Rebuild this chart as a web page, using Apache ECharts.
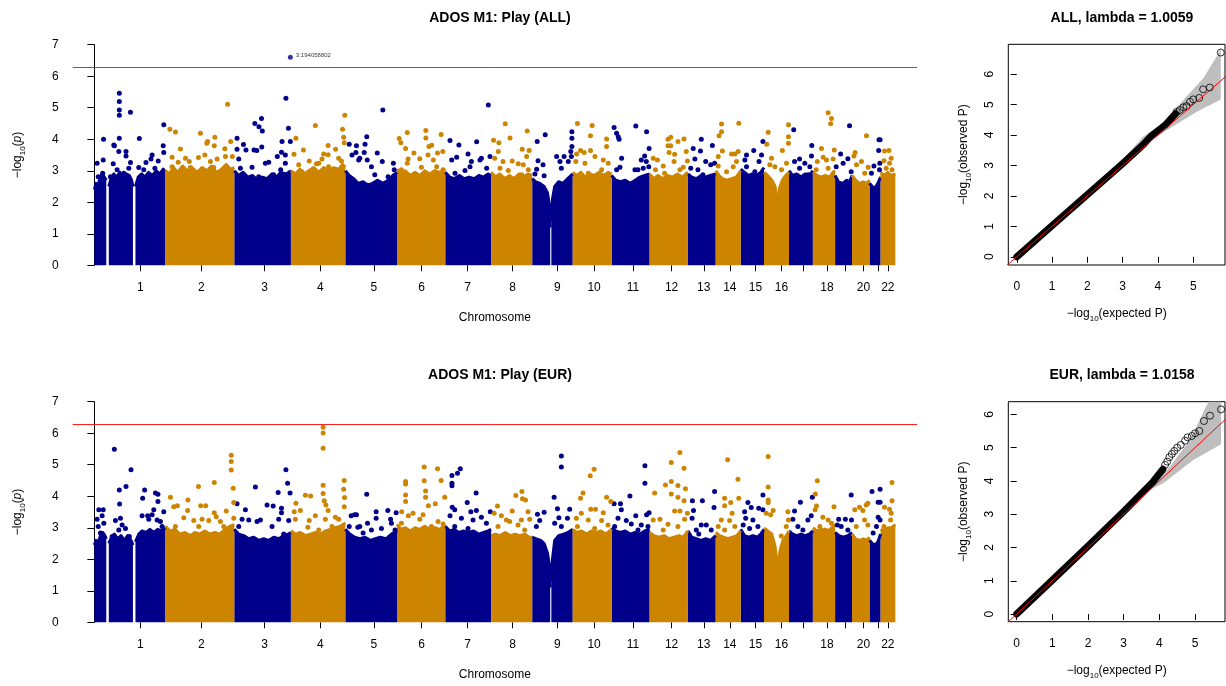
<!DOCTYPE html>
<html>
<head>
<meta charset="utf-8">
<title>ADOS M1: Play</title>
<script src="https://cdn.jsdelivr.net/npm/echarts@6/dist/echarts.min.js"></script>
<style>
    html, body {margin: 0; padding: 0; background: #fff;}
    #chart {width: 1226px; height: 686px;}
</style>
</head>
<body>
<div id="chart"></div>
<script>
// cumulative genome position (Mb) where each chromosome starts
var chrStart = [0, 256, 504, 708, 904, 1090, 1264, 1429, 1577, 1723, 1863, 2000, 2138, 2238, 2328, 2412, 2502, 2588, 2668, 2729, 2792, 2832];
var chrTicks = [166, 385, 613, 814, 1007, 1179, 1344, 1506, 1668, 1800, 1940, 2079, 2195, 2289, 2381, 2475, 2555, 2639, 2706, 2770, 2825, 2858];
var chrNames = ['1', '2', '3', '4', '5', '6', '7', '8', '9', '10', '11', '12', '13', '14', '15', '16', '17', '18', '19', '20', '21', '22'];
var chrHidden = ['17', '19', '21'];
var sigLine = 6.3;

// top of the solid mass of points, per block: [pos, -log10 p], null between blocks
var allBody = [
    [0, 2.4], [6, 2.6], [12, 2.5], [20, 2.75], [28, 2.9], [36, 2.8], [43, 2.7], null,
    [52, 2.5], [60, 2.75], [70, 2.9], [80, 2.8], [92, 2.95], [104, 2.75], [115, 2.9], [126, 2.85], [134, 2.7], [139, 2.5], null,
    [148, 2.5], [158, 2.8], [170, 2.9], [182, 2.8], [195, 2.95], [210, 2.85], [222, 3.0], [236, 2.9], [248, 3.05], [256, 2.95], null,
    [256, 3.0], [270, 2.9], [285, 3.1], [300, 2.95], [318, 3.15], [335, 3.0], [352, 3.1], [370, 2.95], [388, 3.1], [405, 3.0], [422, 3.15], [440, 2.95], [458, 3.05], [475, 3.2], [490, 3.05], [504, 3.1], null,
    [504, 3.0], [520, 2.85], [536, 2.95], [552, 2.8], [570, 2.85], [588, 2.7], [605, 2.8], [622, 2.75], [640, 2.9], [656, 2.8], [672, 2.95], [690, 2.9], [708, 3.0], null,
    [708, 3.0], [724, 2.9], [740, 3.05], [756, 2.9], [772, 3.0], [790, 3.1], [808, 2.95], [826, 3.1], [845, 3.0], [862, 3.1], [880, 3.05], [894, 3.2], [904, 3.1], null,
    [904, 3.0], [918, 2.85], [934, 2.75], [950, 2.6], [968, 2.65], [985, 2.55], [1002, 2.6], [1020, 2.7], [1040, 2.6], [1058, 2.7], [1075, 2.85], [1090, 2.95], null,
    [1090, 3.05], [1105, 2.9], [1120, 3.0], [1138, 2.85], [1155, 2.95], [1172, 2.85], [1190, 3.0], [1208, 2.9], [1225, 3.0], [1245, 2.95], [1264, 3.05], null,
    [1264, 2.95], [1280, 2.8], [1297, 2.75], [1315, 2.85], [1332, 2.75], [1350, 2.8], [1368, 2.75], [1385, 2.85], [1402, 2.8], [1418, 2.9], [1429, 2.85], null,
    [1429, 2.95], [1445, 2.8], [1460, 2.9], [1478, 2.75], [1495, 2.85], [1512, 2.75], [1530, 2.9], [1546, 2.8], [1562, 2.9], [1577, 2.85], null,
    [1577, 2.75], [1590, 2.65], [1605, 2.6], [1620, 2.5], [1632, 2.3], [1639, 1.9], [1642, 1.2], null,
    [1646, 1.4], [1650, 2.1], [1658, 2.5], [1672, 2.65], [1688, 2.6], [1705, 2.75], [1723, 2.9], null,
    [1723, 2.95], [1738, 2.85], [1752, 2.95], [1768, 2.8], [1785, 2.9], [1800, 2.85], [1818, 2.95], [1835, 2.85], [1850, 2.95], [1863, 2.9], null,
    [1863, 2.85], [1878, 2.7], [1895, 2.65], [1912, 2.7], [1930, 2.6], [1948, 2.7], [1965, 2.8], [1982, 2.85], [2000, 2.9], null,
    [2000, 2.9], [2015, 2.75], [2030, 2.85], [2048, 2.75], [2065, 2.85], [2082, 2.8], [2100, 2.9], [2118, 2.8], [2130, 2.9], [2138, 2.95], null,
    [2138, 2.9], [2152, 2.8], [2168, 2.75], [2185, 2.85], [2200, 2.8], [2218, 2.85], [2238, 2.9], null,
    [2238, 3.0], [2250, 2.85], [2262, 2.75], [2278, 2.7], [2295, 2.75], [2312, 2.8], [2328, 3.0], null,
    [2328, 3.05], [2342, 2.95], [2356, 2.85], [2370, 2.9], [2385, 2.85], [2400, 2.95], [2412, 3.1], null,
    [2412, 2.95], [2425, 2.85], [2440, 2.7], [2452, 2.5], [2460, 1.6], [2466, 2.4], [2478, 2.7], [2490, 2.85], [2502, 2.95], null,
    [2502, 3.0], [2515, 2.85], [2530, 2.9], [2545, 2.8], [2560, 2.9], [2575, 2.85], [2588, 3.0], null,
    [2588, 2.95], [2603, 2.85], [2618, 2.8], [2633, 2.85], [2648, 2.8], [2660, 2.95], [2668, 3.0], null,
    [2668, 2.85], [2680, 2.65], [2695, 2.6], [2710, 2.7], [2720, 2.65], [2729, 2.85], null,
    [2729, 2.85], [2742, 2.7], [2755, 2.6], [2770, 2.65], [2782, 2.6], [2792, 2.7], null,
    [2792, 2.6], [2802, 2.5], [2812, 2.45], [2822, 2.6], [2832, 2.8], null,
    [2832, 2.95], [2845, 2.85], [2858, 2.95], [2870, 2.85], [2885, 2.9]
];

// single points standing out above the mass
var allPoints = [
    [10, 3.24], [32, 3.34], [33, 4.00], [30, 2.92], [14, 2.81], [28, 2.71],
    [90, 5.46], [90, 5.20], [90, 4.93], [90, 4.76], [130, 4.86], [90, 4.03], [70, 3.82], [72, 3.79], [114, 3.61], [130, 3.26], [114, 3.47], [88, 3.61], [124, 3.08], [82, 3.03], [68, 3.22], [106, 2.92], [58, 2.81],
    [162, 4.02], [250, 4.46], [248, 3.79], [250, 3.58], [208, 3.50], [204, 3.37], [186, 3.26], [178, 3.03], [160, 3.10], [218, 3.08], [230, 3.31], [242, 2.89], [196, 2.81],
    [272, 4.32], [292, 4.23], [382, 4.19], [480, 5.11], [408, 3.93], [405, 3.87], [434, 4.06], [432, 3.79], [491, 3.93], [470, 3.70], [497, 3.45], [310, 3.69], [328, 3.40], [342, 3.29], [280, 3.43], [302, 3.27], [375, 3.42], [398, 3.50], [418, 3.29], [442, 3.37], [472, 3.45], [346, 3.10], [430, 3.10], [388, 3.05], [280, 3.13], [364, 2.87], [460, 2.92],
    [690, 5.30], [602, 4.66], [578, 4.50], [593, 4.40], [605, 4.26], [699, 4.35], [676, 3.93], [706, 3.93], [514, 4.03], [514, 3.68], [537, 3.83], [546, 3.66], [575, 3.66], [585, 3.64], [603, 3.75], [616, 3.24], [628, 3.27], [659, 3.45], [674, 3.59], [688, 3.50], [688, 3.24], [520, 3.37], [526, 3.08], [568, 3.11], [646, 2.87], [671, 3.03], [592, 2.81],
    [902, 4.76], [894, 4.32], [898, 4.06], [900, 3.89], [796, 4.44], [726, 4.03], [753, 3.66], [842, 3.80], [869, 3.68], [719, 3.52], [774, 3.31], [808, 3.24], [826, 3.53], [842, 3.51], [800, 3.22], [820, 3.37], [880, 3.40], [890, 3.31], [844, 3.13], [736, 3.19], [748, 2.97], [790, 3.03], [772, 2.81],
    [918, 3.84], [944, 3.79], [942, 3.58], [952, 3.34], [928, 3.50], [1039, 4.93], [981, 4.08], [975, 3.84], [1019, 3.56], [983, 3.34], [956, 3.40], [972, 3.58], [1010, 2.87], [1037, 3.29], [1077, 3.24], [1080, 3.03], [1058, 2.81], [998, 3.13],
    [1127, 4.21], [1194, 4.28], [1194, 4.04], [1249, 4.15], [1098, 4.02], [1104, 3.89], [1121, 3.71], [1215, 3.81], [1205, 3.77], [1151, 3.56], [1172, 3.38], [1202, 3.50], [1236, 3.56], [1255, 3.61], [1130, 3.37], [1127, 3.24], [1221, 3.34], [1233, 3.13], [1178, 3.11], [1106, 3.03], [1256, 3.03],
    [1281, 3.96], [1313, 3.82], [1377, 3.92], [1419, 5.09], [1346, 3.53], [1389, 3.34], [1305, 3.43], [1287, 3.34], [1358, 3.29], [1394, 3.40], [1425, 3.45], [1353, 3.13], [1335, 3.01], [1299, 2.92], [1413, 3.08],
    [1480, 4.49], [1438, 3.97], [1457, 3.89], [1497, 4.04], [1559, 4.26], [1455, 3.61], [1541, 3.68], [1566, 3.64], [1442, 3.40], [1472, 3.29], [1505, 3.31], [1527, 3.22], [1557, 3.45], [1545, 3.19], [1461, 3.08], [1491, 3.01], [1563, 3.03], [1539, 2.87],
    [1624, 4.14], [1595, 3.93], [1598, 3.32], [1616, 3.19], [1593, 3.05], [1587, 2.90], [1620, 2.84], [1665, 3.45], [1692, 3.45], [1707, 3.29], [1677, 3.29], [1716, 3.61], [1720, 4.24], [1720, 4.03], [1720, 3.77], [1718, 3.45], [1682, 3.08],
    [1740, 4.50], [1793, 4.44], [1787, 4.11], [1845, 4.01], [1845, 3.77], [1737, 3.53], [1751, 3.64], [1764, 3.58], [1734, 3.29], [1787, 3.64], [1803, 3.45], [1833, 3.34], [1851, 3.24], [1827, 3.03], [1767, 3.24], [1779, 2.92],
    [1872, 4.37], [1881, 4.19], [1887, 4.08], [1890, 4.00], [1950, 4.42], [1899, 3.40], [1893, 3.11], [1881, 3.03], [1947, 3.03], [1977, 3.08], [1989, 4.24], [1998, 3.71], [1982, 3.47], [1988, 3.29], [1958, 3.03], [1970, 3.34], [1997, 3.13],
    [2066, 4.00], [2076, 4.06], [2102, 3.93], [2124, 4.01], [2066, 3.79], [2076, 3.79], [2090, 3.52], [2132, 3.61], [2136, 3.31], [2028, 3.34], [2049, 3.15], [2021, 3.03], [2070, 3.58], [2109, 3.03], [2088, 3.29], [2121, 3.11], [2013, 3.40], [2054, 2.92],
    [2186, 4.00], [2183, 3.63], [2157, 3.71], [2226, 3.80], [2163, 3.37], [2202, 3.29], [2220, 3.19], [2148, 3.08], [2234, 3.24], [2174, 3.03], [2192, 2.87],
    [2259, 4.48], [2259, 4.24], [2250, 4.11], [2262, 3.63], [2321, 4.51], [2295, 3.53], [2307, 3.53], [2319, 3.61], [2247, 3.45], [2301, 3.13], [2247, 3.15], [2313, 3.29], [2277, 2.97],
    [2408, 3.93], [2375, 3.64], [2349, 3.50], [2343, 3.34], [2403, 3.50], [2394, 3.29], [2349, 3.13], [2379, 2.97], [2366, 2.81],
    [2500, 4.46], [2500, 4.08], [2500, 3.87], [2427, 4.22], [2422, 3.84], [2478, 3.64], [2439, 3.40], [2451, 3.13], [2475, 3.03], [2493, 3.24], [2433, 3.19],
    [2519, 4.30], [2584, 3.80], [2540, 3.37], [2522, 3.29], [2559, 3.24], [2583, 3.47], [2577, 3.13], [2540, 3.08], [2571, 2.87],
    [2643, 4.84], [2655, 4.66], [2652, 4.49], [2619, 3.71], [2665, 3.66], [2637, 3.34], [2604, 3.29], [2661, 3.37], [2600, 3.03], [2625, 3.43], [2643, 3.08],
    [2720, 4.43], [2688, 3.53], [2714, 3.38], [2672, 3.13], [2726, 2.97], [2697, 3.24],
    [2781, 4.11], [2740, 3.58], [2763, 3.29], [2787, 3.11], [2736, 3.47], [2745, 3.19], [2775, 2.92],
    [2826, 3.98], [2830, 3.98], [2825, 3.64], [2829, 3.24], [2808, 3.15], [2828, 3.03], [2799, 2.92],
    [2846, 3.63], [2862, 3.64], [2870, 3.40], [2844, 3.32], [2864, 3.24], [2873, 3.03], [2852, 3.08], [2840, 2.81]
];
var allHit = [706, 6.60];
var allHitName = '3:194058802';

var eurBody = [
    [0, 2.45], [6, 2.6], [14, 2.55], [22, 2.75], [30, 2.85], [38, 2.75], [43, 2.65], null,
    [52, 2.5], [62, 2.7], [72, 2.8], [84, 2.65], [96, 2.75], [108, 2.6], [120, 2.75], [132, 2.6], [139, 2.45], null,
    [148, 2.55], [160, 2.8], [172, 2.9], [186, 2.85], [200, 2.95], [214, 2.85], [228, 2.95], [242, 2.9], [256, 3.0], null,
    [256, 3.05], [272, 2.9], [290, 2.95], [308, 2.8], [326, 2.85], [345, 2.75], [362, 2.85], [380, 2.8], [398, 2.9], [416, 2.8], [435, 2.85], [452, 2.8], [470, 2.95], [488, 3.05], [504, 3.1], null,
    [504, 2.95], [520, 2.8], [538, 2.75], [556, 2.65], [574, 2.7], [592, 2.6], [610, 2.65], [628, 2.6], [646, 2.7], [664, 2.65], [682, 2.75], [698, 2.8], [708, 2.85], null,
    [708, 2.9], [724, 2.8], [742, 2.85], [760, 2.75], [778, 2.8], [796, 2.85], [814, 2.8], [832, 2.9], [850, 2.95], [868, 3.0], [886, 3.05], [904, 3.15], null,
    [904, 2.95], [920, 2.8], [938, 2.7], [956, 2.65], [975, 2.7], [994, 2.6], [1012, 2.65], [1030, 2.7], [1050, 2.65], [1070, 2.8], [1090, 2.9], null,
    [1090, 3.1], [1105, 2.95], [1120, 3.0], [1138, 2.9], [1155, 3.0], [1172, 2.95], [1190, 3.05], [1208, 2.95], [1226, 3.0], [1245, 2.95], [1264, 3.1], null,
    [1264, 3.05], [1280, 2.9], [1296, 2.95], [1312, 2.85], [1330, 2.9], [1348, 2.85], [1366, 2.9], [1384, 2.8], [1402, 2.85], [1418, 2.9], [1429, 2.95], null,
    [1429, 2.75], [1445, 2.8], [1462, 2.75], [1480, 2.85], [1498, 2.75], [1515, 2.8], [1532, 2.75], [1550, 2.8], [1566, 2.7], [1577, 2.7], null,
    [1577, 2.7], [1592, 2.65], [1608, 2.6], [1620, 2.5], [1632, 2.2], [1639, 1.8], [1642, 1.1], null,
    [1646, 1.3], [1650, 2.0], [1658, 2.6], [1672, 2.75], [1690, 2.8], [1706, 2.85], [1723, 2.95], null,
    [1723, 2.95], [1738, 2.85], [1755, 2.9], [1772, 2.8], [1790, 2.9], [1808, 2.85], [1825, 2.9], [1842, 2.8], [1863, 2.95], null,
    [1863, 3.0], [1878, 2.9], [1895, 2.85], [1912, 2.9], [1930, 2.8], [1948, 2.85], [1965, 2.8], [1982, 2.9], [2000, 2.95], null,
    [2000, 2.85], [2016, 2.75], [2034, 2.7], [2052, 2.75], [2070, 2.65], [2088, 2.7], [2105, 2.75], [2122, 2.7], [2138, 2.9], null,
    [2138, 2.9], [2152, 2.7], [2168, 2.65], [2185, 2.6], [2202, 2.65], [2220, 2.6], [2238, 2.75], null,
    [2238, 2.85], [2252, 2.75], [2266, 2.7], [2282, 2.65], [2298, 2.7], [2314, 2.75], [2328, 2.9], null,
    [2328, 2.95], [2342, 2.75], [2357, 2.7], [2372, 2.75], [2388, 2.7], [2400, 2.8], [2412, 2.95], null,
    [2412, 3.0], [2425, 2.9], [2440, 2.8], [2452, 2.4], [2462, 1.7], [2470, 2.3], [2480, 2.6], [2492, 2.75], [2502, 2.9], null,
    [2502, 2.9], [2516, 2.8], [2530, 2.75], [2545, 2.8], [2560, 2.75], [2575, 2.8], [2588, 2.9], null,
    [2588, 3.0], [2602, 2.9], [2618, 2.95], [2634, 2.9], [2650, 2.95], [2668, 3.1], null,
    [2668, 2.85], [2682, 2.75], [2698, 2.7], [2714, 2.75], [2729, 2.85], null,
    [2729, 2.8], [2742, 2.65], [2756, 2.6], [2770, 2.65], [2782, 2.6], [2792, 2.7], null,
    [2792, 2.6], [2802, 2.5], [2812, 2.45], [2822, 2.55], [2832, 2.8], null,
    [2832, 2.95], [2845, 2.9], [2858, 3.0], [2870, 3.0], [2885, 3.1]
];

var eurPoints = [
    [16, 3.57], [32, 3.57], [10, 3.27], [14, 3.04], [28, 3.38], [34, 3.14], [22, 2.83],
    [72, 5.49], [132, 4.84], [114, 4.31], [90, 4.20], [91, 3.75], [94, 3.30], [76, 3.23], [100, 3.09], [112, 2.98], [64, 2.72], [126, 2.72], [88, 2.93],
    [181, 4.20], [174, 3.94], [220, 4.10], [229, 4.06], [229, 3.83], [214, 3.57], [208, 3.41], [196, 3.27], [172, 3.38], [192, 3.38], [250, 3.51], [244, 3.04], [166, 2.77], [226, 3.25], [238, 3.20],
    [274, 3.97], [432, 4.44], [375, 4.31], [337, 3.88], [383, 3.70], [401, 3.70], [299, 3.70], [286, 3.67], [336, 3.55], [432, 3.48], [439, 3.35], [475, 3.53], [493, 5.30], [493, 5.10], [493, 4.83], [500, 4.25], [502, 3.80], [502, 3.30], [322, 3.32], [358, 3.23], [388, 3.27], [412, 3.23], [454, 3.20], [292, 3.04], [466, 3.04], [376, 3.04],
    [580, 4.29], [690, 4.84], [696, 4.41], [705, 4.10], [662, 4.12], [514, 3.76], [544, 3.57], [622, 3.72], [644, 3.69], [674, 3.62], [674, 3.48], [556, 3.25], [586, 3.20], [532, 3.27], [598, 3.25], [640, 3.04], [664, 3.27], [682, 2.80], [700, 3.23], [520, 3.04], [688, 2.61],
    [824, 6.19], [824, 6.01], [824, 5.52], [824, 4.35], [824, 4.09], [828, 3.86], [834, 3.72], [900, 4.50], [898, 4.22], [901, 3.96], [900, 3.67], [760, 4.03], [779, 4.01], [726, 3.78], [720, 3.51], [742, 3.55], [796, 3.38], [842, 3.55], [724, 3.27], [774, 3.23], [868, 3.33], [880, 3.27], [832, 3.27], [769, 3.02], [808, 2.93], [856, 3.04],
    [925, 3.38], [937, 3.41], [949, 3.02], [918, 3.04], [981, 4.06], [944, 3.41], [1015, 3.51], [1015, 3.30], [1057, 3.55], [1087, 3.48], [1067, 3.27], [1070, 3.14], [984, 3.14], [956, 3.04], [968, 2.83], [1034, 2.98], [998, 2.93], [1083, 2.93],
    [1121, 4.47], [1121, 4.39], [1121, 4.04], [1121, 3.83], [1188, 4.93], [1188, 4.49], [1193, 4.17], [1193, 3.97], [1203, 3.70], [1236, 4.87], [1249, 4.50], [1228, 3.76], [1262, 3.97], [1107, 3.51], [1131, 3.38], [1172, 3.27], [1184, 3.41], [1238, 3.20], [1256, 3.12], [1148, 3.46], [1214, 3.04], [1106, 3.14],
    [1288, 4.66], [1288, 4.41], [1288, 4.33], [1308, 4.73], [1318, 4.87], [1343, 3.80], [1375, 4.10], [1289, 3.65], [1298, 3.57], [1356, 3.51], [1376, 3.55], [1426, 3.51], [1281, 3.38], [1322, 3.30], [1364, 3.25], [1394, 3.33], [1412, 3.14], [1298, 3.04], [1346, 2.98],
    [1518, 4.02], [1540, 4.15], [1542, 3.92], [1553, 3.88], [1505, 3.53], [1452, 3.69], [1440, 3.46], [1466, 3.38], [1496, 3.20], [1562, 3.51], [1568, 3.27], [1538, 3.25], [1484, 3.25], [1454, 3.04], [1526, 3.09], [1550, 2.93],
    [1682, 5.28], [1682, 4.93], [1656, 3.97], [1596, 3.43], [1620, 3.49], [1604, 3.23], [1592, 3.04], [1668, 3.60], [1673, 3.32], [1704, 3.30], [1712, 3.59], [1682, 3.04], [1658, 3.14],
    [1800, 4.86], [1786, 4.65], [1760, 4.10], [1751, 3.94], [1845, 3.97], [1860, 3.83], [1736, 3.30], [1754, 3.46], [1788, 3.59], [1805, 3.59], [1833, 3.48], [1827, 3.23], [1779, 3.25], [1740, 3.04], [1850, 3.09], [1802, 2.98],
    [1929, 4.01], [1872, 3.76], [1895, 3.76], [1898, 3.57], [1950, 3.38], [1886, 3.30], [1916, 3.23], [1934, 3.12], [1970, 3.09], [1983, 4.97], [1983, 4.41], [1998, 3.48], [1989, 3.41], [1994, 3.04], [1874, 3.04], [1958, 2.93],
    [2109, 5.39], [2078, 5.07], [2124, 4.89], [2057, 4.36], [2078, 4.47], [2102, 4.34], [2078, 4.07], [2102, 3.97], [2129, 4.24], [2018, 4.10], [2124, 3.86], [2090, 3.53], [2109, 3.53], [2136, 3.46], [2037, 3.27], [2066, 3.11], [2013, 3.25], [2126, 3.27], [2102, 3.04], [2049, 2.93],
    [2154, 3.86], [2190, 3.86], [2234, 4.15], [2232, 3.64], [2158, 3.55], [2153, 3.30], [2186, 3.09], [2204, 3.09], [2168, 2.93], [2222, 2.93], [2177, 2.80],
    [2281, 5.16], [2318, 4.54], [2270, 3.94], [2270, 3.70], [2292, 3.80], [2297, 3.46], [2321, 3.94], [2258, 3.25], [2288, 3.23], [2247, 3.04], [2307, 3.04], [2270, 2.93],
    [2408, 4.04], [2354, 3.80], [2366, 3.64], [2393, 3.62], [2342, 3.51], [2346, 3.30], [2372, 3.25], [2390, 3.04], [2360, 2.98], [2408, 3.57], [2337, 3.09],
    [2427, 5.26], [2427, 4.29], [2427, 3.88], [2427, 3.80], [2445, 3.55], [2436, 3.41], [2420, 3.46], [2498, 3.51], [2500, 3.25], [2474, 2.74], [2492, 3.04],
    [2543, 3.81], [2586, 3.97], [2522, 3.53], [2516, 3.27], [2570, 3.25], [2552, 2.93], [2582, 3.38], [2534, 3.04],
    [2604, 4.49], [2597, 4.07], [2601, 3.69], [2596, 3.57], [2624, 3.33], [2643, 3.25], [2664, 3.67], [2613, 3.04], [2655, 3.14], [2631, 2.93],
    [2726, 4.04], [2681, 3.27], [2705, 3.27], [2727, 3.25], [2690, 3.04], [2714, 2.93], [2676, 3.09],
    [2739, 3.57], [2768, 3.55], [2780, 3.72], [2786, 3.78], [2756, 3.65], [2774, 3.25], [2786, 3.09], [2744, 3.04],
    [2801, 4.15], [2830, 4.22], [2823, 3.81], [2830, 3.81], [2823, 3.33], [2830, 3.25], [2805, 2.83], [2817, 3.04],
    [2873, 4.44], [2873, 3.86], [2864, 3.59], [2870, 3.46], [2846, 3.65], [2868, 3.25], [2844, 3.04], [2858, 2.93]
];

// QQ plots: [expected, observed]
var allQqBulk = [[0, 0], [1, 1.02], [2, 2.04], [3, 3.06], [3.6, 3.7], [3.8, 3.96], [4.2, 4.32], [4.5, 4.7]];
var allQqTail = [[4.53, 4.76], [4.62, 4.82], [4.72, 4.91], [4.81, 4.95], [4.91, 5.09], [5.0, 5.17], [5.17, 5.22], [5.28, 5.5], [5.47, 5.56], [5.78, 6.71]];
var allQqBand = [[2.5, 2.55], [3.58, 3.94], [4.15, 4.38], [4.72, 5.15], [5.28, 5.86], [5.66, 6.57], [5.78, 6.84], [5.78, 5.17], [5.09, 4.76], [4.34, 4.22], [3.58, 3.67], [2.5, 2.45]];
var allLambda = '1.0059';

var eurQqBulk = [[0, 0], [1, 1.02], [2, 2.04], [3, 3.08], [3.5, 3.62], [3.8, 3.95], [4.0, 4.22], [4.1, 4.35]];
var eurQqTail = [[4.16, 4.48], [4.22, 4.58], [4.28, 4.71], [4.35, 4.81], [4.42, 4.9], [4.5, 5.0], [4.6, 5.08], [4.72, 5.21], [4.79, 5.31], [4.91, 5.35], [5.0, 5.43], [5.12, 5.5], [5.25, 5.8], [5.42, 5.96], [5.73, 6.15]];
var eurQqBand = [[2.5, 2.55], [3.55, 3.73], [4.2, 4.3], [4.86, 5.23], [5.33, 6.28], [5.4, 6.38], [5.73, 6.38], [5.73, 5.1], [4.95, 4.63], [4.11, 3.93], [3.55, 3.63], [2.5, 2.45]];
var eurLambda = '1.0158';

var qqRef = [[-1, -1], [8, 8]];

var NAVY = '#00008B', GOLD = '#CD8500';
var FONT = 'Liberation Sans, Arial, sans-serif';

function chrIndex(pos) {
    var i = chrStart.length - 1;
    while (i > 0 && pos < chrStart[i]) i--;
    return i;
}

// join the blocks of one colour into a line series, '-' breaks the area between blocks
function bodyData(body, parity) {
    var segs = [], seg = [], out = [];
    body.forEach(function (p) {
        if (p === null) {
            if (seg.length) segs.push(seg);
            seg = [];
        } else seg.push(p);
    });
    if (seg.length) segs.push(seg);
    segs.forEach(function (s) {
        if (chrIndex(s[0][0] + 0.5) % 2 !== parity) return;
        if (out.length) out.push([s[0][0], '-']);
        out = out.concat(s);
    });
    return out;
}

function pointData(points, parity) {
    return points.filter(function (p) { return chrIndex(p[0]) % 2 === parity; });
}

var logName = function (tail) {
    return '{a|\u2212log}{s|10}{a|' + tail + '}';
};
var nameRich = {
    a: {fontSize: 12, fontFamily: FONT, color: '#000', lineHeight: 18},
    s: {fontSize: 8, fontFamily: FONT, color: '#000', verticalAlign: 'bottom', lineHeight: 18},
    i: {fontSize: 12, fontFamily: FONT, color: '#000', fontStyle: 'italic', lineHeight: 18}
};

function manhattanAxes(gi) {
    var x = {
        type: 'value', gridIndex: gi, min: -78, max: 2963,
        name: 'Chromosome', nameLocation: 'middle', nameGap: 46,
        nameTextStyle: {fontSize: 12, fontFamily: FONT, color: '#000'},
        axisLine: {show: false},
        axisTick: {show: true, length: 6, customValues: chrTicks, lineStyle: {color: '#000'}},
        axisLabel: {
            fontSize: 12, fontFamily: FONT, color: '#000', margin: 16,
            customValues: chrTicks.filter(function (t, i) { return chrHidden.indexOf(chrNames[i]) < 0; }),
            formatter: function (v) { return chrNames[chrTicks.indexOf(v)]; }
        },
        splitLine: {show: false}
    };
    var y = {
        type: 'value', gridIndex: gi, min: 0, max: 7, interval: 1,
        name: '{a|\u2212log}{s|10}{a|(}{i|p}{a|)}', nameLocation: 'middle', nameGap: 46,
        nameTextStyle: {rich: nameRich},
        axisLine: {show: true, lineStyle: {color: '#000'}},
        axisTick: {show: true, length: 7, lineStyle: {color: '#000'}},
        axisLabel: {fontSize: 12, fontFamily: FONT, color: '#000', margin: 14},
        splitLine: {show: false}
    };
    return [x, y];
}

function qqAxes(gi, xmin, xmax, ymin, ymax) {
    var x = {
        type: 'value', gridIndex: gi, min: xmin, max: xmax,
        name: logName('(expected P)'), nameLocation: 'middle', nameGap: 40,
        nameTextStyle: {rich: nameRich},
        axisLine: {show: false},
        axisTick: {show: true, length: 6, customValues: [0, 1, 2, 3, 4, 5], lineStyle: {color: '#000'}},
        axisLabel: {fontSize: 12, fontFamily: FONT, color: '#000', margin: 16, customValues: [0, 1, 2, 3, 4, 5]},
        splitLine: {show: false}
    };
    var y = {
        type: 'value', gridIndex: gi, min: ymin, max: ymax,
        name: logName('(observed P)'), nameLocation: 'middle', nameGap: 36,
        nameTextStyle: {rich: nameRich},
        axisLine: {show: false},
        axisTick: {show: true, length: 6, customValues: [0, 1, 2, 3, 4, 5, 6], lineStyle: {color: '#000'}},
        axisLabel: {fontSize: 12, fontFamily: FONT, color: '#000', margin: 13, rotate: 90, customValues: [0, 1, 2, 3, 4, 5, 6]},
        splitLine: {show: false}
    };
    return [x, y];
}

function manhattanSeries(ai, body, points) {
    var list = [];
    [0, 1].forEach(function (parity) {
        var col = parity === 0 ? NAVY : GOLD;
        list.push({
            type: 'line', xAxisIndex: ai, yAxisIndex: ai, data: bodyData(body, parity),
            symbol: 'none', connectNulls: false, z: 2, silent: true,
            lineStyle: {color: col, width: 3, join: 'round'}, areaStyle: {color: col, opacity: 1}
        });
        list.push({
            type: 'scatter', xAxisIndex: ai, yAxisIndex: ai, data: pointData(points, parity),
            symbolSize: 5, z: 3, silent: true,
            itemStyle: {color: col, opacity: 1}
        });
    });
    list[0].markLine = {
        silent: true, symbol: 'none', label: {show: false},
        lineStyle: {color: '#FF2020', width: 1, type: 'solid', opacity: 1},
        data: [{yAxis: sigLine}]
    };
    return list;
}

function qqSeries(ai, bulk, tail, band) {
    return [
        {
            type: 'custom', xAxisIndex: ai, yAxisIndex: ai, data: [band[0]], z: 1, silent: true,
            renderItem: function (params, api) {
                return {
                    type: 'polygon',
                    shape: {points: band.map(function (p) { return api.coord(p); })},
                    style: {fill: '#BEBEBE'}
                };
            }
        },
        {
            type: 'line', xAxisIndex: ai, yAxisIndex: ai, data: bulk, symbol: 'none', z: 2, silent: true,
            lineStyle: {color: '#000', width: 7, cap: 'round', join: 'round'}
        },
        {
            type: 'scatter', xAxisIndex: ai, yAxisIndex: ai, data: tail, symbol: 'circle', symbolSize: 7, z: 3, silent: true,
            itemStyle: {color: 'rgba(0,0,0,0)', borderColor: '#000', borderWidth: 1}
        },
        {
            type: 'line', xAxisIndex: ai, yAxisIndex: ai, data: qqRef, symbol: 'none', z: 4, silent: true, clip: true,
            lineStyle: {color: '#FF0000', width: 1}
        }
    ];
}

var chart = echarts.init(document.getElementById('chart'), null, {renderer: 'canvas'});

var titleStyle = {fontSize: 14, fontWeight: 'bold', fontFamily: FONT, color: '#000'};
var ma = manhattanAxes(0), qa = qqAxes(1, -0.24, 5.9, -0.27, 6.98);
var mb = manhattanAxes(2), qb = qqAxes(3, -0.235, 5.84, -0.23, 6.38);

var hitSeries = {
    type: 'scatter', xAxisIndex: 0, yAxisIndex: 0, data: [allHit], symbolSize: 5, z: 5, silent: true,
    itemStyle: {color: NAVY},
    label: {
        show: true, position: 'right', distance: 3, offset: [0, -2],
        formatter: allHitName, fontSize: 6, fontFamily: FONT, color: '#000'
    }
};

var option = {
    animation: false,
    backgroundColor: '#fff',
    title: [
        {text: 'ADOS M1: Play (ALL)', left: 495, top: 6, textAlign: 'center', textStyle: titleStyle},
        {text: 'ALL, lambda = ' + allLambda, left: 1117, top: 6, textAlign: 'center', textStyle: titleStyle},
        {text: 'ADOS M1: Play (EUR)', left: 495, top: 363, textAlign: 'center', textStyle: titleStyle},
        {text: 'EUR, lambda = ' + eurLambda, left: 1117, top: 363, textAlign: 'center', textStyle: titleStyle}
    ],
    grid: [
        {left: 72.7, top: 44.7, width: 844.3, height: 220.6, outerBoundsMode: 'none'},
        {left: 1008.3, top: 44.3, width: 216.7, height: 220.7, show: true, borderColor: '#000', borderWidth: 1, outerBoundsMode: 'none'},
        {left: 72.7, top: 401.7, width: 844.3, height: 220.6, outerBoundsMode: 'none'},
        {left: 1008.3, top: 401.7, width: 216.7, height: 220, show: true, borderColor: '#000', borderWidth: 1, outerBoundsMode: 'none'}
    ],
    xAxis: [ma[0], qa[0], mb[0], qb[0]],
    yAxis: [ma[1], qa[1], mb[1], qb[1]],
    series: []
        .concat(manhattanSeries(0, allBody, allPoints))
        .concat([hitSeries])
        .concat(qqSeries(1, allQqBulk, allQqTail, allQqBand))
        .concat(manhattanSeries(2, eurBody, eurPoints))
        .concat(qqSeries(3, eurQqBulk, eurQqTail, eurQqBand))
};

chart.setOption(option);
</script>
</body>
</html>
